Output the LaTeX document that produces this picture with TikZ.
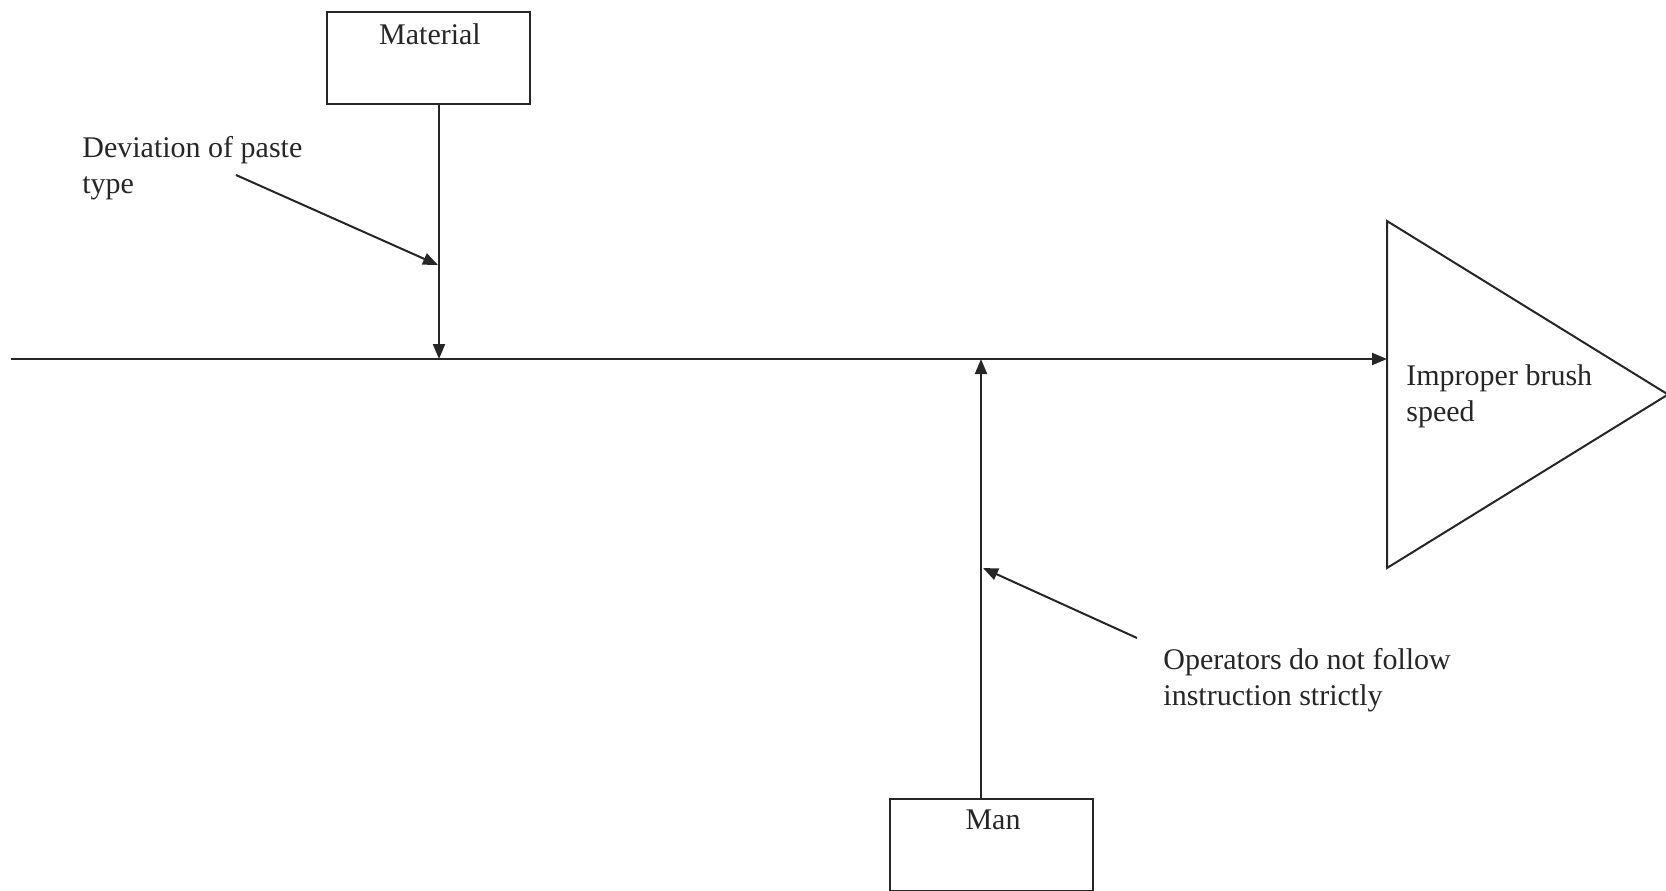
\documentclass[tikz,border=0pt]{standalone}
\usepackage{fontspec}
\setmainfont{Liberation Serif}
\usetikzlibrary{arrows.meta}
\begin{document}
\begin{tikzpicture}[x=0.5pt,y=-0.5pt,
  line/.style={draw=black!85, line width=1pt},
  arr/.style={line, -{Triangle[length=7.5pt,width=6pt]}},
  catbox/.style={draw=black!85, line width=1pt, minimum width=101.5pt, minimum height=46pt, inner sep=0pt},
  lbl/.style={font=\fontsize{15}{18}\selectfont, inner sep=0pt, text=black!85},
  cause/.style={lbl, align=left, anchor=north west}]
\useasboundingbox (0,0) rectangle (1666,890);
\clip (0,0) rectangle (1666,890);

% category boxes
\node[catbox] (mat) at (428.5,58) {};
\node[lbl] (matlbl) at (430,34) {Material};
\node[catbox] (man) at (991.5,845) {};
\node[lbl] (manlbl) at (993,820) {Man};

% spine and effect head
\coordinate (tail) at (11,359);
\coordinate (head) at (1387,359);
\coordinate (jmat) at (439,359);
\coordinate (jman) at (981,359);
\coordinate (ta) at (1387,221);
\coordinate (tb) at (1387,568);
\coordinate (tc) at (1668,394.5);
\draw[line, line join=miter] (ta) -- (tc) -- (tb) -- cycle;
\node[cause] (effect) at (1406,364) {Improper brush\\speed};
\draw[arr] (tail) -- (head);

% bones
\draw[arr] (jmat |- mat.south) -- (jmat);
\draw[arr] (jman |- man.north) -- (jman);

% causes
\node[cause] (dev) at (82,136) {Deviation of paste\\type};
\coordinate (d0) at (236,175);
\coordinate (d1) at (438,265);
\draw[arr] (d0) -- (d1);

\node[cause] (ops) at (1163,648) {Operators do not follow\\instruction strictly};
\coordinate (o0) at (1137,638);
\coordinate (o1) at (983,568);
\draw[arr] (o0) -- (o1);
\end{tikzpicture}
\end{document}
